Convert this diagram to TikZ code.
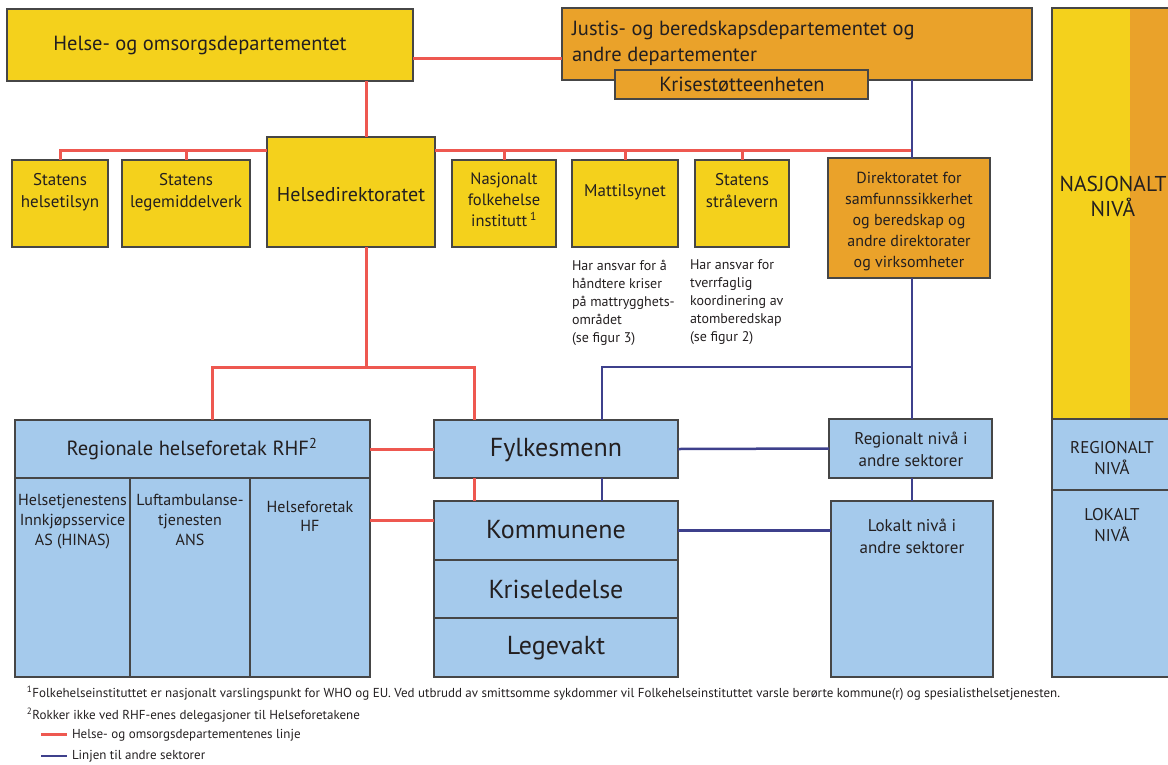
\documentclass[tikz,border=0pt]{standalone}
\usepackage{fontspec}
\setmainfont{PT Sans}
\usetikzlibrary{calc}
\definecolor{cyel}{RGB}{244,209,28}
\definecolor{corg}{RGB}{234,162,42}
\definecolor{cblu}{RGB}{165,202,236}
\definecolor{cred}{RGB}{238,88,80}
\definecolor{cnav}{RGB}{62,64,140}
\definecolor{cbrd}{RGB}{70,70,70}
\definecolor{ctxt}{RGB}{35,31,32}
\newcommand{\fsz}[2]{\fontsize{#1}{#2}\selectfont}
\begin{document}
\begin{tikzpicture}[x=1pt,y=-1pt,
  box/.style={draw=cbrd,line width=1.6pt,inner sep=0pt,outer sep=0pt,anchor=north west},
  ybox/.style={box,fill=cyel},
  obox/.style={box,fill=corg},
  bbox/.style={box,fill=cblu},
  txt/.style={inner sep=0pt,outer sep=0pt,align=center,text=ctxt},
  redl/.style={draw=cred,line width=3pt},
  bluel/.style={draw=cnav,line width=2.5pt}]
\useasboundingbox (0,0) rectangle (1168,764);

% ---------- national level boxes
\node[ybox,minimum width=406pt,minimum height=72pt] (hod) at (7,9) {};
\node[obox,minimum width=470pt,minimum height=72pt] (jbd) at (562,8) {};
\node[obox,minimum width=253pt,minimum height=29pt] (kst) at (615,70) {};
\node[ybox,minimum width=96pt,minimum height=87pt] (sht) at (12,160) {};
\node[ybox,minimum width=128pt,minimum height=87pt] (sld) at (122,160) {};
\node[ybox,minimum width=168pt,minimum height=110pt] (hdir) at (267,137) {};
\node[ybox,minimum width=104pt,minimum height=87pt] (nfi) at (452,160) {};
\node[ybox,minimum width=106pt,minimum height=87pt] (mat) at (572,160) {};
\node[ybox,minimum width=94pt,minimum height=87pt] (nrpa) at (695,160) {};
\node[obox,minimum width=162pt,minimum height=120pt] (dsb) at (828,158) {};

% ---------- regional / local boxes
\node[bbox,minimum width=355pt,minimum height=58pt] (rhf) at (15,420) {};
\node[bbox,minimum width=115pt,minimum height=199pt] (c1) at (15,478) {};
\node[bbox,minimum width=120pt,minimum height=199pt] (c2) at (130,478) {};
\node[bbox,minimum width=120pt,minimum height=199pt] (c3) at (250,478) {};
\node[bbox,minimum width=244pt,minimum height=58pt] (fylk) at (434,420) {};
\node[bbox,minimum width=244pt,minimum height=59pt] (komm) at (434,501) {};
\node[bbox,minimum width=244pt,minimum height=58pt] (krl) at (434,560) {};
\node[bbox,minimum width=244pt,minimum height=59pt] (lgv) at (434,618) {};
\node[bbox,minimum width=163pt,minimum height=59pt] (reg) at (829,419) {};
\node[bbox,minimum width=162pt,minimum height=176pt] (lok) at (831,501) {};

% ---------- level column
\fill[cyel] (1052,8) rectangle (1130,419);
\fill[corg] (1130,8) rectangle (1185,419);
\node[box,minimum width=133pt,minimum height=411pt] (nas) at (1052,8) {};
\node[bbox,minimum width=133pt,minimum height=71pt] (regn) at (1052,419) {};
\node[bbox,minimum width=133pt,minimum height=187pt] (lokn) at (1052,490) {};

% ---------- texts
\node[txt,font=\fsz{20.5}{24}] (t-hod) at (200,45) {Helse- og omsorgsdepartementet};
\node[txt,align=left,anchor=north west,font=\fsz{20.5}{26}] (t-jbd) at (572,21) {Justis- og beredskapsdepartementet og\\andre departementer};
\node[txt,font=\fsz{20.5}{24}] (t-kst) at (742,84) {Krisestøtteenheten};
\node[txt,anchor=north,font=\fsz{17}{22}] (t-sht) at (60,173) {Statens\\helsetilsyn};
\node[txt,anchor=north,font=\fsz{17}{22}] (t-sld) at (186,173) {Statens\\legemiddelverk};
\node[txt,font=\fsz{20}{24}] (t-hdir) at (351,195) {Helsedirektoratet};
\node[txt,anchor=north,font=\fsz{16.5}{21}] (t-nfi) at (504,173) {Nasjonalt\\folkehelse\\institutt\,\textsuperscript{1}};
\node[txt,font=\fsz{17}{22}] (t-mat) at (625,192) {Mattilsynet};
\node[txt,anchor=north,font=\fsz{17}{22}] (t-nrpa) at (742,173) {Statens\\strålevern};
\node[txt,anchor=north,font=\fsz{16}{21}] (t-dsb) at (909,172) {Direktoratet for\\samfunnssikkerhet\\og beredskap og\\andre direktorater\\og virksomheter};
\node[txt,anchor=north west,align=left,font=\fsz{14}{18}] (n-mat) at (572,260) {Har ansvar for å\\håndtere kriser\\på mattrygghets-\\området\\(se figur 3)};
\node[txt,anchor=north west,align=left,font=\fsz{14}{18}] (n-nrpa) at (690,260) {Har ansvar for\\tverrfaglig\\koordinering av\\atomberedskap\\(se figur 2)};

\node[txt,font=\fsz{20.5}{24}] (t-rhf) at (192,449) {Regionale helseforetak RHF\textsuperscript{2}};
\node[txt,anchor=north,font=\fsz{16}{20}] (t-c1) at (72.5,494) {Helsetjenestens\\Innkjøpsservice\\AS (HINAS)};
\node[txt,anchor=north,font=\fsz{16}{20}] (t-c2) at (190,494) {Luftambulanse-\\tjenesten\\ANS};
\node[txt,anchor=north,font=\fsz{16}{19}] (t-c3) at (310,501) {Helseforetak\\HF};
\node[txt,font=\fsz{26}{30}] (t-fylk) at (556,450) {Fylkesmenn};
\node[txt,font=\fsz{26}{30}] (t-komm) at (556,530) {Kommunene};
\node[txt,font=\fsz{26}{30}] (t-krl) at (556,589) {Kriseledelse};
\node[txt,font=\fsz{26}{30}] (t-lgv) at (556,648) {Legevakt};
\node[txt,font=\fsz{17}{22}] (t-reg) at (911,449) {Regionalt nivå i\\andre sektorer};
\node[txt,anchor=north,font=\fsz{17}{22}] (t-lok) at (912,519) {Lokalt nivå i\\andre sektorer};
\node[txt,anchor=north,font=\fsz{21.5}{25}] (t-nas) at (1113,176) {NASJONALT\\NIVÅ};
\node[txt,anchor=north,font=\fsz{17}{21}] (t-regn) at (1112,441) {REGIONALT\\NIVÅ};
\node[txt,anchor=north,font=\fsz{17}{21}] (t-lokn) at (1112,508) {LOKALT\\NIVÅ};

% ---------- footnotes and legend
\node[txt,anchor=base west,align=left,font=\fsz{13}{15}] (fn1) at (27,697) {\textsuperscript{1}Folkehelseinstituttet er nasjonalt varslingspunkt for WHO og EU. Ved utbrudd av smittsomme sykdommer vil Folkehelseinstituttet varsle berørte kommune(r) og spesialisthelsetjenesten.};
\node[txt,anchor=base west,align=left,font=\fsz{13}{15}] (fn2) at (27,719) {\textsuperscript{2}Rokker ikke ved RHF-enes delegasjoner til Helseforetakene};
\coordinate (lr1) at (41,734);
\coordinate (lr2) at (67,734);
\coordinate (lb1) at (41,756);
\coordinate (lb2) at (67,756);
\draw[redl] (lr1) -- (lr2);
\draw[bluel] (lb1) -- (lb2);
\node[txt,anchor=west,font=\fsz{13}{15}] (lg1) at (72,735) {Helse- og omsorgsdepartementenes linje};
\node[txt,anchor=west,font=\fsz{13}{15}] (lg2) at (72,756) {Linjen til andre sektorer};

% ---------- connectors
\coordinate (rx) at (366,0);
\coordinate (bx) at (912,0);
\coordinate (bus) at (0,150);
\coordinate (jy) at (0,367);
\coordinate (fb) at (602,0);
\coordinate (fr) at (474,0);
\coordinate (rr) at (212,0);

\draw[redl] ([yshift=-13pt]hod.east) -- ([yshift=-13pt]hod.east -| jbd.west);
\draw[redl] (hod.south -| rx) -- (hdir.north -| rx);
\draw[redl] (sht.north) |- (hdir.west |- bus);
\draw[redl] (hdir.east |- bus) -- (bx |- bus);
\draw[redl] (sld.north) -- (sld.north |- bus);
\draw[redl] (nfi.north) -- (nfi.north |- bus);
\draw[redl] (mat.north) -- (mat.north |- bus);
\draw[redl] (nrpa.north) -- (nrpa.north |- bus);

\draw[bluel] (jbd.south -| bx) -- (dsb.north -| bx);
\draw[bluel] (dsb.south -| bx) -- (reg.north -| bx);
\draw[bluel] (bx |- jy) -| (fylk.north -| fb);

\draw[redl] (hdir.south -| rx) -- (rx |- jy);
\draw[redl] (rhf.north -| rr) -- (rr |- jy) -- (fr |- jy) -- (fylk.north -| fr);
\draw[redl] (rhf.east) -- (fylk.west);
\draw[redl] (fylk.south -| fr) -- (komm.north -| fr);
\draw[bluel] (fylk.south -| fb) -- (komm.north -| fb);
\draw[redl] ([yshift=10pt]komm.west) -- ([yshift=10pt]komm.west -| c3.east);
\draw[bluel] (fylk.east) -- (reg.west);
\draw[bluel] (komm.east) -- (komm.east -| lok.west);
\draw[bluel] (reg.south -| bx) -- (lok.north -| bx);
\end{tikzpicture}
\end{document}
